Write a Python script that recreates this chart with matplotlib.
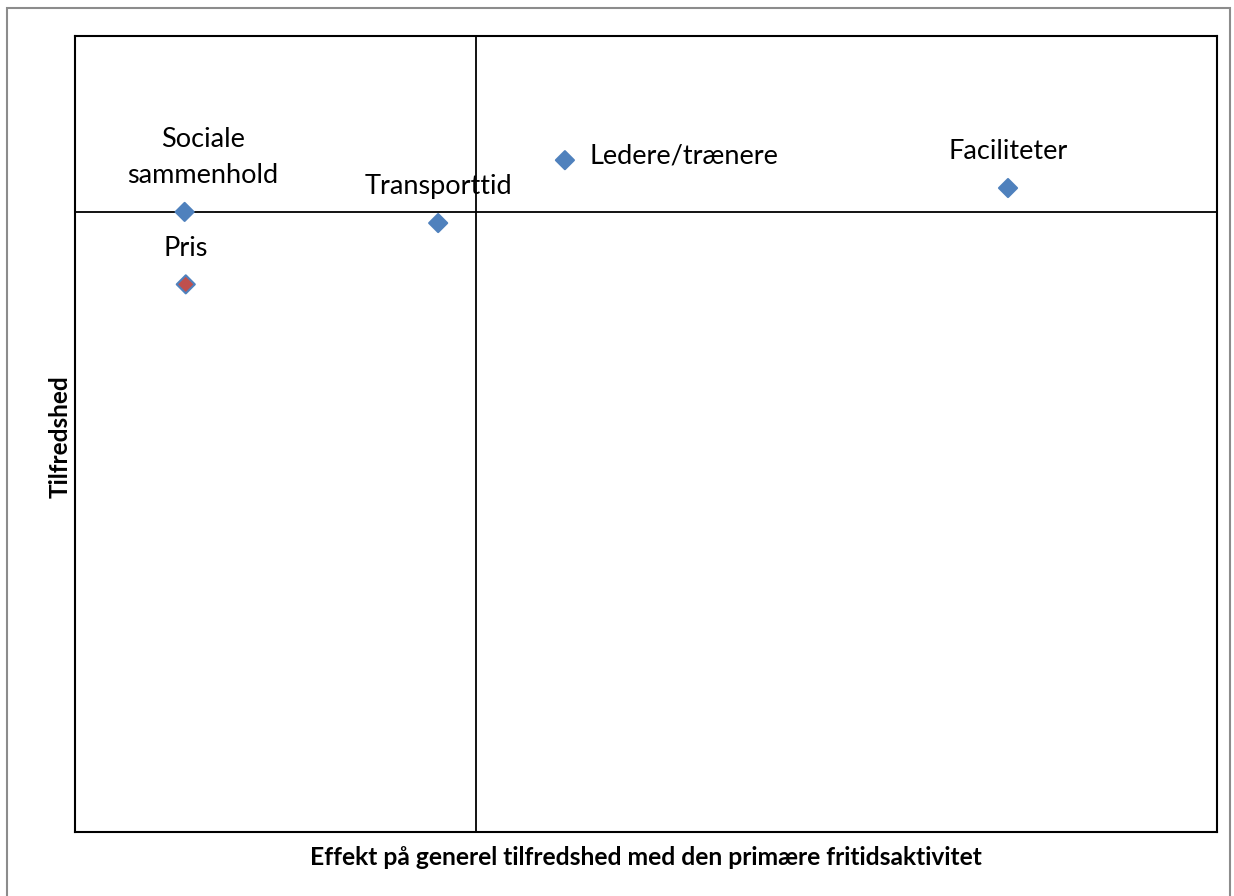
import numpy as np
import matplotlib.pyplot as plt
from matplotlib.patches import Rectangle

# Data (arbitrary units, no tick labels shown)
labels = ["Sociale\nsammenhold", "Pris", "Transporttid", "Ledere/trænere", "Faciliteter"]
effect = [9.6, 9.7, 31.8, 42.9, 81.7]
satisfaction = [77.9, 68.8, 76.5, 84.4, 80.9]
faceColors = ["#4F81BD", "#C0504D", "#4F81BD", "#4F81BD", "#4F81BD"]
labelOffsets = [(18, 54.5), (0, 36), (0, 37), (25, 4), (0, 37)]
labelAligns = ["center", "center", "center", "left", "center"]
xSplit = 35.1
ySplit = 77.9

fontName = "Lato"

fig = plt.figure(figsize=(12.34, 8.96), dpi=100)
ax = fig.add_axes([75 / 1234, 1 - 832 / 896, (1217 - 75) / 1234, (832 - 36) / 896])

ax.scatter(effect, satisfaction, marker="D", s=85, c=faceColors,
           edgecolors="#4F81BD", linewidths=1.5, zorder=3)

for lab, x, y, off, ha in zip(labels, effect, satisfaction, labelOffsets, labelAligns):
    ax.annotate(lab, (x, y), xytext=off, textcoords="offset pixels",
                ha=ha, va="center", fontsize=19.5, family=fontName,
                linespacing=1.58, zorder=4)

ax.axvline(xSplit, color="black", linewidth=1.3, zorder=2)
ax.axhline(ySplit, color="black", linewidth=1.3, zorder=2)

ax.set_xlim(0, 100)
ax.set_ylim(0, 100)
ax.set_xticks([])
ax.set_yticks([])
for sp in ax.spines.values():
    sp.set_linewidth(1.5)

fig.text(646 / 1234, 1 - 857 / 896, "Effekt på generel tilfredshed med den primære fritidsaktivitet",
         ha="center", va="center", fontsize=17.7, fontweight="bold", family=fontName)
fig.text(60 / 1234, 1 - 437 / 896, "Tilfredshed", ha="center", va="center",
         rotation=90, fontsize=17.5, fontweight="bold", family=fontName)

# Outer chart border
fig.patches.append(Rectangle((7 / 1234, -0.01), (1230 - 7) / 1234, 1 - 8 / 896 + 0.01,
                             transform=fig.transFigure, fill=False,
                             edgecolor="#8c8c8c", linewidth=1.5))

fig.savefig("out.png", dpi=100)
